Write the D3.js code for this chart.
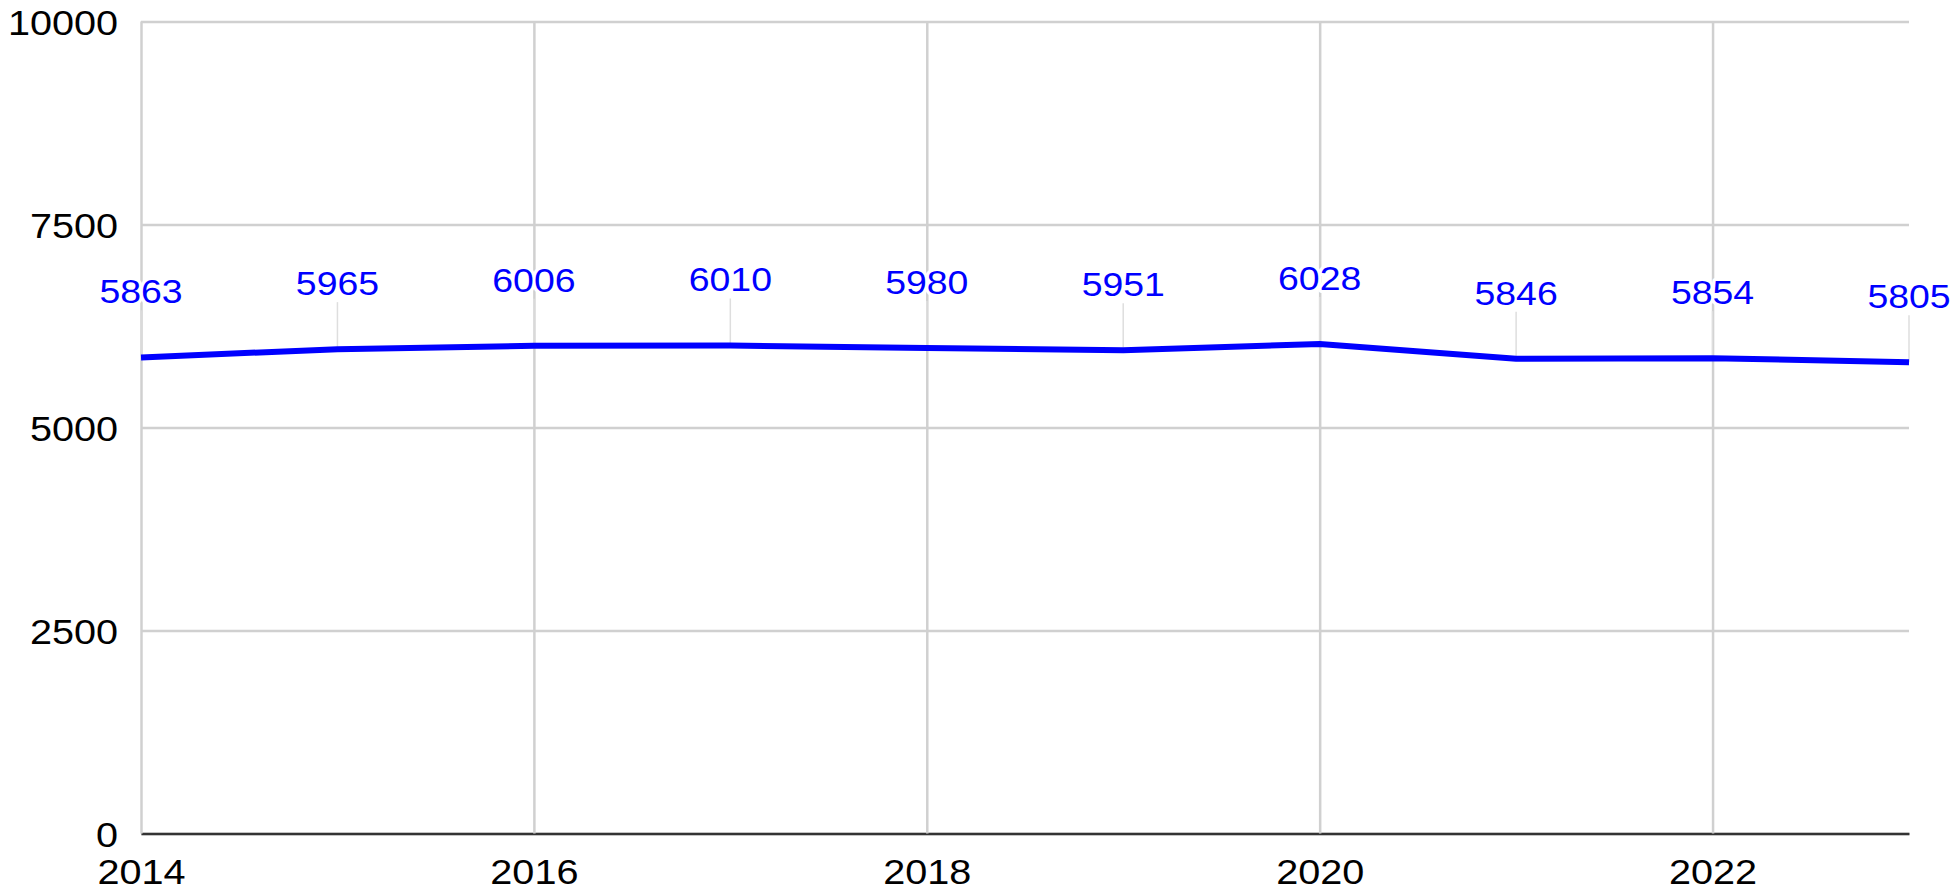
<!DOCTYPE html>
<html>
<head>
<meta charset="utf-8">
<script src="https://cdn.jsdelivr.net/npm/d3@7"></script>
<style>
  html, body { margin: 0; padding: 0; background: #fff; }
  svg { display: block; }
</style>
</head>
<body>
<div id="chart"></div>
<script>
"use strict";

var years = [2014, 2015, 2016, 2017, 2018, 2019, 2020, 2021, 2022, 2023];
var values = [5863, 5965, 6006, 6010, 5980, 5951, 6028, 5846, 5854, 5805];
var xTicks = [2014, 2016, 2018, 2020, 2022];
var yTicks = [0, 2500, 5000, 7500, 10000];

window.addEventListener('load', function () {

	var W = 1959, H = 890;
	var margin = {top: 21.5, right: 50, bottom: 56.5, left: 141};
	var width = W - margin.left - margin.right;
	var height = H - margin.top - margin.bottom;
	var stretch = 1.1; // glyphs in the picture are drawn a bit wide

	var svg = d3.select("#chart").append("svg")
		.attr("width", W)
		.attr("height", H);

	var g = svg.append("g")
		.attr("transform", "translate(" + margin.left + "," + margin.top + ")");

	var x = d3.scaleLinear().domain([2014, 2023]).range([0, width]);
	var y = d3.scaleLinear().domain([0, 10000]).range([height, 0]);

	// horizontal grid + y labels
	var yAxis = g.append("g")
		.call(d3.axisLeft(y).tickValues(yTicks).tickFormat(d3.format("d")).tickSize(-width).tickSizeOuter(0));
	yAxis.select(".domain").remove();
	yAxis.selectAll(".tick line")
		.attr("stroke", "#d0d0d0")
		.attr("stroke-width", 2.5);
	yAxis.selectAll(".tick text")
		.attr("x", null).attr("dy", null)
		.attr("fill", "#000")
		.attr("font-family", "'Liberation Sans', Arial, sans-serif")
		.attr("font-size", "36px")
		.attr("text-anchor", "end")
		.attr("transform", "translate(-23,12.8) scale(" + stretch + ",1)");

	// vertical grid + x labels
	var xAxis = g.append("g")
		.attr("transform", "translate(0," + height + ")")
		.call(d3.axisBottom(x).tickValues(xTicks).tickFormat(d3.format("d")).tickSize(-height).tickSizeOuter(0));
	xAxis.selectAll(".tick line")
		.attr("stroke", "#d0d0d0")
		.attr("stroke-width", 2.5);
	xAxis.select(".domain")
		.attr("stroke", "#333")
		.attr("stroke-width", 2.5);
	xAxis.selectAll(".tick text")
		.attr("y", null).attr("dy", null)
		.attr("fill", "#000")
		.attr("font-family", "'Liberation Sans', Arial, sans-serif")
		.attr("font-size", "36px")
		.attr("text-anchor", "middle")
		.attr("transform", "translate(0,50.5) scale(" + stretch + ",1)");
	xAxis.raise();

	var pts = years.map(function (yr, i) { return {year: yr, value: values[i]}; });

	// leader lines from points up to labels
	g.selectAll(".leader")
		.data(pts)
		.enter()
		.append("line")
		.attr("class", "leader")
		.attr("x1", function (d) { return x(d.year); })
		.attr("x2", function (d) { return x(d.year); })
		.attr("y1", function (d) { return y(d.value) - 47; })
		.attr("y2", function (d) { return y(d.value); })
		.attr("stroke", "#dedede")
		.attr("stroke-width", 1.5);

	var line = d3.line()
		.x(function (d) { return x(d.year); })
		.y(function (d) { return y(d.value); });

	g.append("path")
		.datum(pts)
		.attr("fill", "none")
		.attr("stroke", "#0000ff")
		.attr("stroke-width", 6)
		.attr("stroke-linejoin", "round")
		.attr("d", line);

	g.selectAll(".vlabel")
		.data(pts)
		.enter()
		.append("text")
		.attr("class", "vlabel")
		.attr("transform", function (d) {
			return "translate(" + x(d.year) + "," + (y(d.value) - 54) + ") scale(" + stretch + ",1)";
		})
		.attr("text-anchor", "middle")
		.attr("font-family", "'Liberation Sans', Arial, sans-serif")
		.attr("font-size", "34px")
		.attr("fill", "#0000ff")
		.attr("stroke", "#fff")
		.attr("stroke-width", 6)
		.attr("stroke-linejoin", "round")
		.attr("paint-order", "stroke")
		.text(function (d) { return d.value; });
});
</script>
</body>
</html>
